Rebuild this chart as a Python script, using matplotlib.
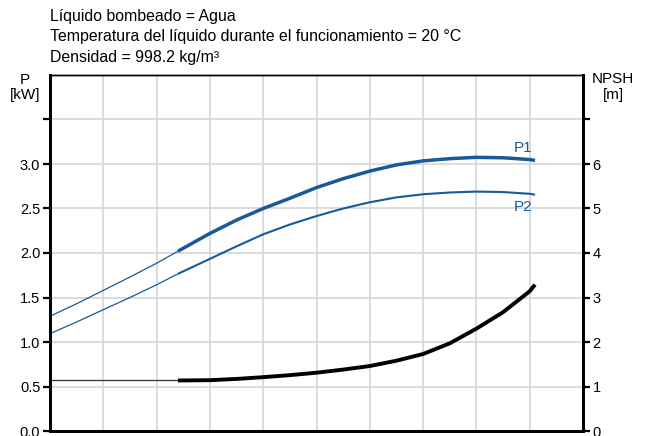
import matplotlib
matplotlib.use("Agg")
import matplotlib.pyplot as plt

# caudal (unidades de la rejilla, sin etiquetas en el eje x)
q_thin = [0, 0.5, 1, 1.5, 2, 2.4]
q_thick = [2.4, 3, 3.5, 4, 4.5, 5, 5.5, 6, 6.5, 7, 7.5, 8, 8.5, 9, 9.1]

# potencia P1 / P2 [kW]
p1_thin = [1.29, 1.43, 1.58, 1.73, 1.885, 2.02]
p1_thick = [2.02, 2.22, 2.37, 2.50, 2.615, 2.735, 2.835, 2.92, 2.99,
            3.035, 3.06, 3.075, 3.07, 3.05, 3.04]
p2_thin = [1.094, 1.225, 1.363, 1.50, 1.643, 1.766]
p2_thick = [1.766, 1.934, 2.075, 2.21, 2.32, 2.415, 2.50, 2.57, 2.625,
            2.66, 2.68, 2.69, 2.685, 2.665, 2.655]

# NPSH [m]
q_npsh_thin = [0, 2.4]
npsh_thin = [1.14, 1.14]
npsh_thick = [1.135, 1.142, 1.17, 1.21, 1.255, 1.31, 1.38, 1.46, 1.58,
              1.73, 1.97, 2.30, 2.67, 3.14, 3.29]

p_ticks = [0.0, 0.5, 1.0, 1.5, 2.0, 2.5, 3.0, 3.5]
p_labels = ["0.0", "0.5", "1.0", "1.5", "2.0", "2.5", "3.0", ""]
npsh_ticks = [0, 1, 2, 3, 4, 5, 6, 7]
npsh_labels = ["0", "1", "2", "3", "4", "5", "6", ""]

titulo = ["Líquido bombeado = Agua",
          "Temperatura del líquido durante el funcionamiento = 20 °C",
          "Densidad = 998.2 kg/m³"]

plt.rcParams["font.family"] = ["Liberation Sans", "DejaVu Sans"]
azul = "#175a97"
fs = 11

fig = plt.figure(figsize=(6.49, 4.36), dpi=100)
ax = fig.add_axes([50 / 649, 5 / 436, 533 / 649, 356 / 436])
ax2 = ax.twinx()

ax.plot(q_thin, p1_thin, color=azul, lw=0.9, solid_capstyle="butt")
ax.plot(q_thick, p1_thick, color=azul, lw=2.5, solid_capstyle="butt", solid_joinstyle="round")
ax.plot(q_thin, p2_thin, color=azul, lw=0.9, solid_capstyle="butt")
ax.plot(q_thick, p2_thick, color=azul, lw=1.5, solid_capstyle="butt", solid_joinstyle="round")
ax2.plot(q_npsh_thin, npsh_thin, color="#333333", lw=0.9, solid_capstyle="butt")
ax2.plot(q_thick, npsh_thick, color="black", lw=2.8, solid_capstyle="butt", solid_joinstyle="round")

ax.text(9.05, 3.1, "P1", color=azul, fontsize=fs, ha="right", va="bottom")
ax.text(9.05, 2.6, "P2", color=azul, fontsize=fs, ha="right", va="top")

ax.set_xlim(0, 10)
ax.set_ylim(0, 4)
ax2.set_ylim(0, 8)
ax.set_xticks(range(11))
ax.set_yticks(p_ticks)
ax.set_yticklabels(p_labels, fontsize=10.5)
ax2.set_yticks(npsh_ticks)
ax2.set_yticklabels(npsh_labels, fontsize=10.5)
ax.grid(True, color="#d3d6d9", lw=1.2)
ax.set_axisbelow(True)
ax.tick_params(axis="x", length=0, labelbottom=False)
ax.tick_params(axis="y", length=5, width=1.6, pad=2)
ax2.tick_params(axis="y", length=5, width=1.6, pad=2)

for a in (ax, ax2):
    for s in a.spines.values():
        s.set_linewidth(1.0)
    a.spines["left"].set_linewidth(2)
    a.spines["right"].set_linewidth(2)
    a.spines["bottom"].set_linewidth(2)

fig.text(25 / 649, 1 - 73 / 436, "P\n[kW]", ha="center", va="top", fontsize=fs, linespacing=1.05)
fig.text(613 / 649, 1 - 72 / 436, "NPSH\n[m]", ha="center", va="top", fontsize=fs, linespacing=1.15)
for i, linea in enumerate(titulo):
    fig.text(50 / 649, 1 - (17 + 20 * i) / 436, linea, ha="left", va="center", fontsize=11.4)

fig.savefig("out.png", dpi=100)
